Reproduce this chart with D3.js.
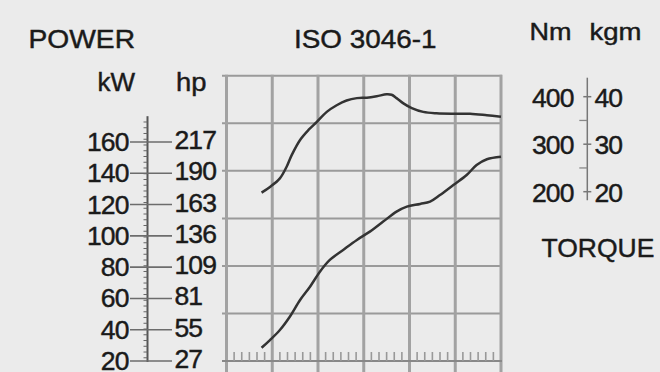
<!DOCTYPE html>
<html>
<head>
<meta charset="utf-8">
<script src="https://cdn.jsdelivr.net/npm/d3@7"></script>
<style>
  html, body { margin: 0; padding: 0; background: #ebebeb; }
  svg { display: block; }
  text { font-family: "Liberation Sans", Arial, Helvetica, sans-serif; fill: #1a1a1a; stroke: #1a1a1a; stroke-width: 0.45px; }
</style>
</head>
<body>
<svg id="chart" width="660" height="372"></svg>
<script>
// Engine speed (rpm) sample points shared by both curves
const torqueRpm = [1060, 1170, 1300, 1390, 1455, 1565, 1675, 1785, 1915, 2045, 2175, 2310, 2440, 2570, 2700, 2765, 2830, 2920, 3030, 3180, 3355, 3575, 3795, 4015, 4200];
const torqueNm  = [198, 210, 228, 253, 277, 309, 330, 347, 368, 382, 392, 397, 398, 401, 405, 404, 397, 386, 376, 368, 365, 364, 364, 361, 358];

const powerRpm = [1060, 1170, 1300, 1430, 1565, 1695, 1825, 1955, 2130, 2310, 2480, 2655, 2830, 2965, 3140, 3270, 3400, 3575, 3750, 3880, 4015, 4200];
const powerKw  = [28.5, 33.4, 39.8, 48.3, 59, 67.5, 77.1, 84.6, 91, 97.4, 102.7, 109.1, 115.5, 118.7, 120.4, 121.9, 126.1, 132.5, 138.9, 145.3, 149, 150.6];

// Axis tick labels
const kwTicks  = [20, 40, 60, 80, 100, 120, 140, 160];
const hpLabels = ["27", "55", "81", "109", "136", "163", "190", "217"];
const nmTicks  = [200, 300, 400];
const kgmLabels = ["20", "30", "40"];

const svg = d3.select("#chart");

// Scales
const x   = d3.scaleLinear().domain([600, 4200]).range([226.5, 501]);
const kw  = d3.scaleLinear().domain([20, 160]).range([361, 142]);
const nm  = d3.scaleLinear().domain([200, 400]).range([191.7, 96.7]);
const row = d3.scaleLinear().domain([0, 6]).range([361, 75.8]);

// ---- Grid ----
const grid = svg.append("g");
grid.selectAll("line.h").data(d3.range(1, 7)).join("line")
  .attr("x1", 222).attr("x2", x(4200) + 1)
  .attr("y1", d => row(d)).attr("y2", d => row(d))
  .attr("stroke", "#9a9a9a").attr("stroke-width", 2);

grid.selectAll("line.v").data(d3.range(600, 4201, 600)).join("line")
  .attr("x1", d => x(d)).attr("x2", d => x(d))
  .attr("y1", row(6) - 1).attr("y2", 380)
  .attr("stroke", "#a2a2a2").attr("stroke-width", 3);

// Speed axis baseline with minor ticks
grid.append("line")
  .attr("x1", 222).attr("x2", x(4200) + 1)
  .attr("y1", row(0)).attr("y2", row(0))
  .attr("stroke", "#888").attr("stroke-width", 2);
grid.selectAll("line.minor").data(d3.range(700, 4200, 100).filter(d => d % 600 !== 0)).join("line")
  .attr("x1", d => x(d)).attr("x2", d => x(d))
  .attr("y1", row(0) - 9).attr("y2", row(0))
  .attr("stroke", "#999").attr("stroke-width", 1.6);

// ---- Curves ----
const torqueLine = d3.line().x((d, i) => x(torqueRpm[i])).y(d => nm(d)).curve(d3.curveCatmullRom);
const powerLine  = d3.line().x((d, i) => x(powerRpm[i])).y(d => kw(d)).curve(d3.curveCatmullRom);

svg.append("path").attr("d", torqueLine(torqueNm))
  .attr("fill", "none").attr("stroke", "#333").attr("stroke-width", 2.5);
svg.append("path").attr("d", powerLine(powerKw))
  .attr("fill", "none").attr("stroke", "#333").attr("stroke-width", 2.5);

// ---- Power axis (kW / hp) ----
const pAxis = svg.append("g");
const axisX = 147.5;
pAxis.append("line")
  .attr("x1", axisX).attr("x2", axisX)
  .attr("y1", kw(176.5)).attr("y2", kw(20) + 1)
  .attr("stroke", "#555").attr("stroke-width", 2);
// minor ticks every 5 hp
pAxis.selectAll("line.m").data(d3.range(30, 240, 5)).join("line")
  .attr("x1", axisX - 4).attr("x2", axisX)
  .attr("y1", d => kw(d / 1.36)).attr("y2", d => kw(d / 1.36))
  .attr("stroke", "#666").attr("stroke-width", 1);
pAxis.selectAll("line.t").data(kwTicks).join("line")
  .attr("x1", 130).attr("x2", 172)
  .attr("y1", d => kw(d)).attr("y2", d => kw(d))
  .attr("stroke", "#6c6c6c").attr("stroke-width", 1.6);
pAxis.selectAll("text.kw").data(kwTicks).join("text")
  .attr("x", 128.5).attr("y", d => kw(d) + 9)
  .attr("text-anchor", "end")
  .attr("font-size", 26.5).attr("letter-spacing", -0.9)
  .text(d => d);
pAxis.selectAll("text.hp").data(hpLabels).join("text")
  .attr("x", 174.5).attr("y", (d, i) => kw(kwTicks[i]) + 7)
  .attr("font-size", 26.5).attr("letter-spacing", -0.9)
  .text(d => d);

// ---- Torque axis (Nm / kgm) ----
const tAxis = svg.append("g");
const tX = 587.3;
tAxis.append("line")
  .attr("x1", tX).attr("x2", tX)
  .attr("y1", nm(440)).attr("y2", nm(182))
  .attr("stroke", "#777").attr("stroke-width", 1.5);
tAxis.selectAll("line.t").data(nmTicks).join("line")
  .attr("x1", tX - 4).attr("x2", tX + 4)
  .attr("y1", d => nm(d)).attr("y2", d => nm(d))
  .attr("stroke", "#777").attr("stroke-width", 1.5);
tAxis.selectAll("line.m").data([250, 350]).join("line")
  .attr("x1", tX - 8).attr("x2", tX)
  .attr("y1", d => nm(d)).attr("y2", d => nm(d))
  .attr("stroke", "#888").attr("stroke-width", 1.3);
tAxis.selectAll("text.nm").data(nmTicks).join("text")
  .attr("x", 573.5).attr("y", d => nm(d) + 10)
  .attr("text-anchor", "end")
  .attr("font-size", 26.5).attr("letter-spacing", -0.9)
  .text(d => d);
tAxis.selectAll("text.kgm").data(kgmLabels).join("text")
  .attr("x", 594.5).attr("y", (d, i) => nm(nmTicks[i]) + 10)
  .attr("font-size", 26.5).attr("letter-spacing", -0.9)
  .text(d => d);

// ---- Titles and unit labels ----
function label(txt, xPos, yPos, size, len) {
  const t = svg.append("text").attr("x", xPos).attr("y", yPos)
    .attr("font-size", size).text(txt);
  if (len) t.attr("textLength", len).attr("lengthAdjust", "spacingAndGlyphs");
  return t;
}
label("POWER", 28.5, 48.3, 26.5, 106.5);
label("ISO 3046-1", 294, 48.3, 26.5, 142.5);
label("kW", 97.5, 90.7, 26.5, 37.5);
label("hp", 176, 90.7, 26.5, 30.5);
label("Nm", 529.5, 39.5, 24, 42);
label("kgm", 589.5, 39.5, 24, 52);
label("TORQUE", 541.5, 256.7, 26.5, null);
</script>
</body>
</html>
